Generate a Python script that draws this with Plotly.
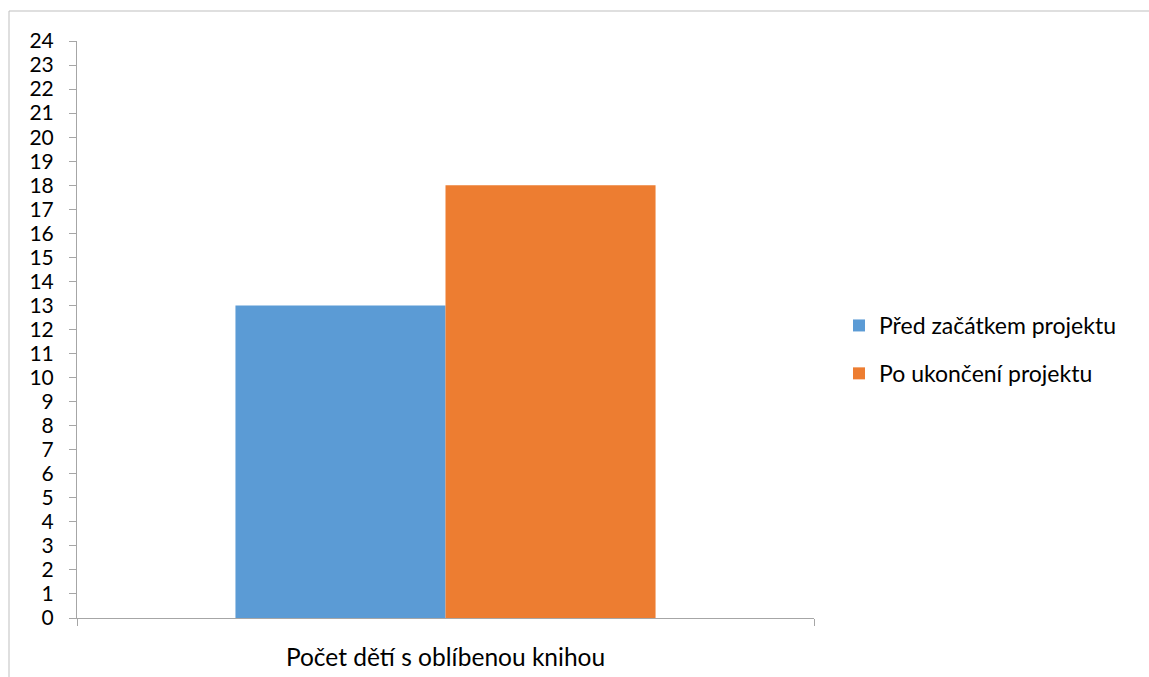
import plotly.graph_objects as go

categories = ["Počet dětí s oblíbenou knihou"]
series_names = ["Před začátkem projektu", "Po ukončení projektu"]
before_values = [13]
after_values = [18]
colors = ["#5B9BD5", "#ED7D31"]
y_ticks = list(range(0, 25))

W, H = 1149, 677
L, R, T, B = 77, 335, 41, 59
pw = W - L - R
ph = H - T - B

def px_x(px):
    return (px - L) / pw

def px_y(py):
    return (H - B - py) / ph

font_family = "Lato, Open Sans, sans-serif"

fig = go.Figure()
fig.add_trace(go.Bar(x=categories, y=before_values, name=series_names[0],
                     legendgroup="g1",
                     marker=dict(color=colors[0], line=dict(width=0))))
fig.add_trace(go.Bar(x=categories, y=after_values, name=series_names[1],
                     legendgroup="g2",
                     marker=dict(color=colors[1], line=dict(width=0))))

fig.update_layout(
    width=W, height=H,
    margin=dict(l=L, r=R, t=T, b=B, pad=0, autoexpand=False),
    paper_bgcolor="white", plot_bgcolor="white",
    barmode="group", bargap=0.43, bargroupgap=0,
    font=dict(family=font_family, color="#000000", size=22),
    showlegend=True,
    legend=dict(x=px_x(839), y=px_y(304), xanchor="left", yanchor="top",
                font=dict(size=23, family=font_family), itemwidth=30,
                traceorder="grouped", tracegroupgap=15,
                bgcolor="rgba(0,0,0,0)"),
    xaxis=dict(showline=True, linecolor="#A6A6A6", linewidth=1,
               ticks="outside", ticklen=7, tickcolor="#A6A6A6",
               tickson="boundaries", showgrid=False, zeroline=False,
               ticklabelstandoff=18, automargin=False,
               tickfont=dict(size=24.5, family=font_family)),
    yaxis=dict(range=[0, 24], tickvals=y_ticks, showline=True, linecolor="#A6A6A6",
               linewidth=1, ticks="outside", ticklen=7, tickcolor="#A6A6A6",
               showgrid=False, zeroline=False, ticklabelstandoff=11,
               automargin=False,
               tickfont=dict(size=21, family=font_family)),
)

fig.add_shape(type="rect", xref="paper", yref="paper",
              x0=px_x(9), y0=px_y(700), x1=px_x(1200), y1=px_y(11),
              line=dict(color="#BFBFBF", width=1), fillcolor="rgba(0,0,0,0)",
              layer="below")

fig.write_html("out.html")
